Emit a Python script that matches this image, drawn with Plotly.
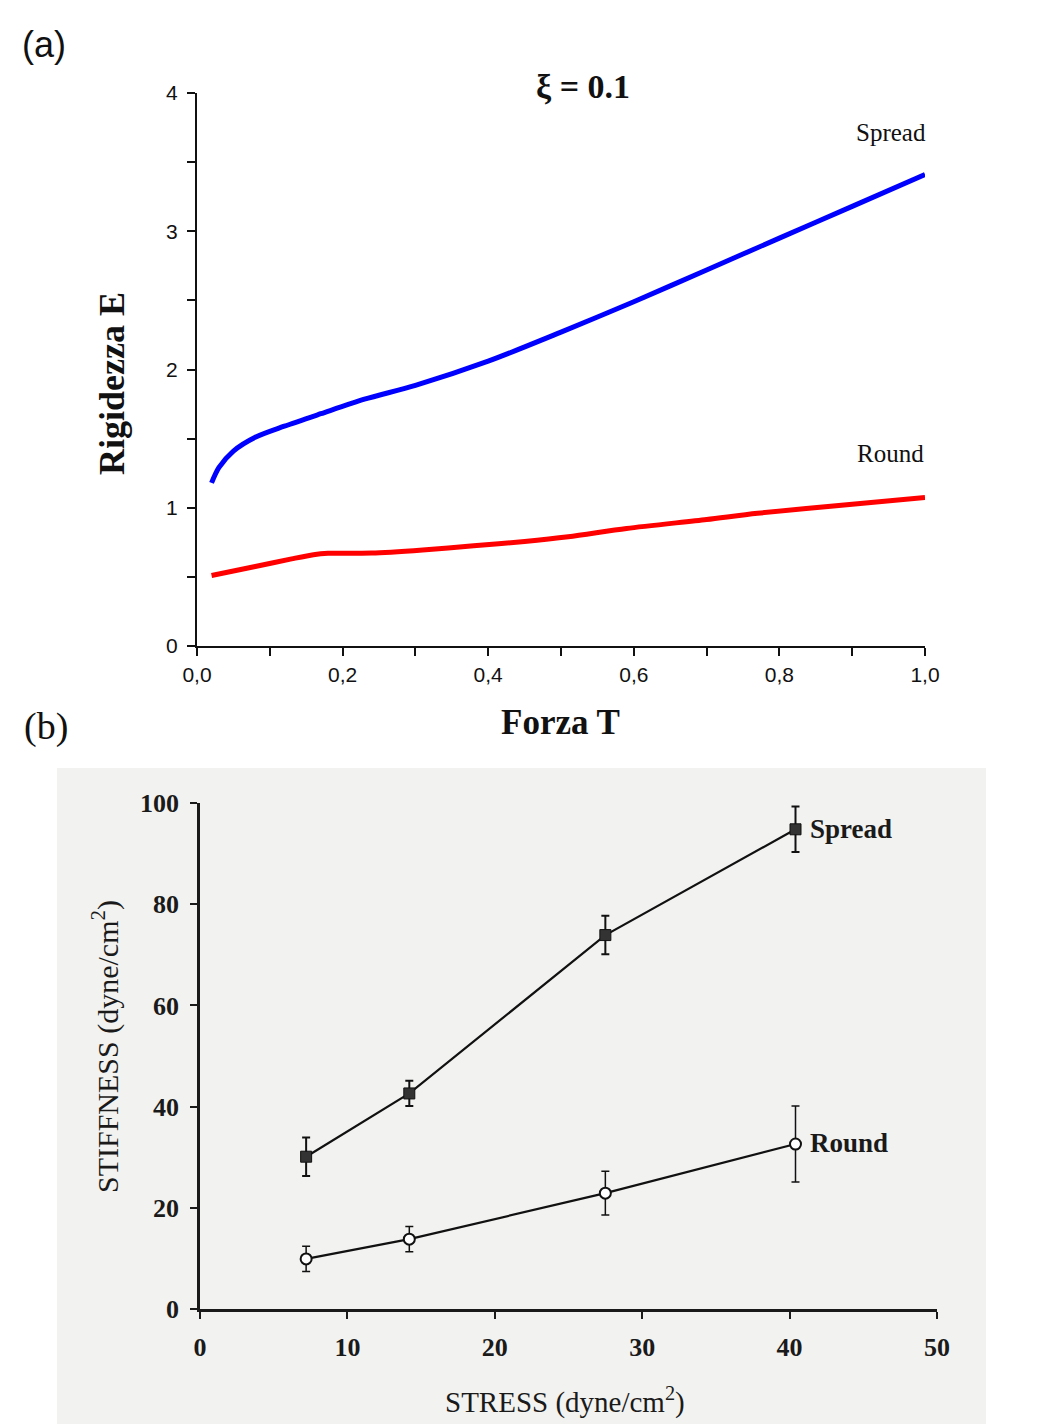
import plotly.graph_objects as go

# ---- Panel (a): model stiffness E versus applied force T (xi = 0.1) ----
spread_t = [0.02, 0.03, 0.05, 0.08, 0.12, 0.17, 0.23, 0.30, 0.40, 0.50, 0.60, 0.70, 0.80, 0.90, 1.00]
spread_e = [1.18, 1.29, 1.41, 1.51, 1.59, 1.68, 1.785, 1.885, 2.06, 2.27, 2.49, 2.72, 2.95, 3.18, 3.41]

round_t = [0.02, 0.08, 0.13, 0.16, 0.18, 0.24, 0.31, 0.38, 0.45, 0.51, 0.59, 0.70, 0.77, 0.90, 1.00]
round_e = [0.51, 0.575, 0.63, 0.66, 0.67, 0.672, 0.695, 0.725, 0.756, 0.79, 0.85, 0.915, 0.96, 1.025, 1.075]

# ---- Panel (b): measured stiffness versus stress ----
stress = [7.2, 14.2, 27.5, 40.4]
spread_stiff = [30.1, 42.6, 73.9, 94.8]
spread_err = [3.8, 2.5, 3.8, 4.5]
round_stiff = [9.9, 13.8, 22.9, 32.6]
round_err = [2.5, 2.5, 4.3, 7.5]

W, H = 1062, 1424


def px(x):
    return x / W


def py(y):
    return 1 - y / H


fig = go.Figure()

# panel (a) curves
fig.add_trace(go.Scatter(x=spread_t, y=spread_e, mode="lines",
                         line=dict(color="#0000ff", width=5, shape="spline", smoothing=0.8),
                         xaxis="x", yaxis="y", showlegend=False))
fig.add_trace(go.Scatter(x=round_t, y=round_e, mode="lines",
                         line=dict(color="#ff0000", width=5, shape="spline", smoothing=0.8),
                         xaxis="x", yaxis="y", showlegend=False))

# panel (b) data with error bars
fig.add_trace(go.Scatter(x=stress, y=spread_stiff, mode="lines+markers",
                         line=dict(color="#111111", width=2.2),
                         marker=dict(symbol="square", size=11, color="#333333",
                                     line=dict(color="#111111", width=1)),
                         error_y=dict(type="data", array=spread_err, color="#111111",
                                      thickness=2, width=4),
                         xaxis="x2", yaxis="y2", showlegend=False))
fig.add_trace(go.Scatter(x=stress, y=round_stiff, mode="lines+markers",
                         line=dict(color="#111111", width=2.2),
                         marker=dict(symbol="circle", size=11, color="#ffffff",
                                     line=dict(color="#111111", width=2)),
                         error_y=dict(type="data", array=round_err, color="#111111",
                                      thickness=1.5, width=4),
                         xaxis="x2", yaxis="y2", showlegend=False))

sans = "Liberation Sans"
serif = "Liberation Serif"

axis_a = dict(showgrid=False, zeroline=False, showline=True, linecolor="#111111",
              linewidth=2, ticks="outside", ticklen=8, tickwidth=2, tickcolor="#111111",
              automargin=False,
              tickfont=dict(family=sans, size=21, color="#111111"))
axis_b = dict(showgrid=False, zeroline=False, showline=True, linecolor="#1a1a1a",
              linewidth=2.5, ticks="outside", ticklen=7, tickwidth=2, tickcolor="#1a1a1a",
              automargin=False,
              tickfont=dict(family=serif, size=26, color="#1a1a1a", weight="bold"))

fig.update_layout(
    template="none",
    width=W, height=H,
    autosize=False,
    margin=dict(l=0, r=0, t=0, b=0, pad=0, autoexpand=False),
    paper_bgcolor="#ffffff",
    plot_bgcolor="rgba(0,0,0,0)",
    separators=",.",
    xaxis=dict(axis_a, domain=[px(197), px(925)], range=[0, 1], anchor="y",
               dtick=0.2, tick0=0, tickformat=".1f", ticklabelstandoff=1,
               minor=dict(dtick=0.1, ticks="outside", ticklen=8, tickwidth=2,
                          tickcolor="#111111")),
    yaxis=dict(axis_a, domain=[py(646), py(93)], range=[0, 4], anchor="x",
               dtick=1, tick0=0, ticklabelstandoff=5,
               minor=dict(dtick=0.5, ticks="outside", ticklen=8, tickwidth=2,
                          tickcolor="#111111")),
    xaxis2=dict(axis_b, domain=[px(200), px(937)], range=[0, 50], anchor="y2",
                dtick=10, tick0=0, ticklabelstandoff=6),
    yaxis2=dict(axis_b, domain=[py(1309), py(803)], range=[0, 100], anchor="x2",
                dtick=20, tick0=0, ticklabelstandoff=6),
    shapes=[
        # scanned sheet behind panel (b)
        dict(type="rect", xref="paper", yref="paper", x0=px(57), x1=px(986),
             y0=0, y1=py(768), fillcolor="#f2f2f0", line=dict(width=0), layer="below"),
    ],
)

ann = []


def note(text, x, y, size, family, xanchor="center", angle=0, color="#111111", weight="normal"):
    ann.append(dict(text=text, x=px(x), y=py(y), xref="paper", yref="paper",
                    xanchor=xanchor, yanchor="middle", showarrow=False, textangle=angle,
                    font=dict(family=family, size=size, color=color, weight=weight)))


note("(a)", 44, 44, 36, sans)
note("(b)", 46, 727, 38, serif)
note("ξ = <b>0.1</b>", 583, 86, 34, serif, weight="bold")
note("Spread", 928, 132, 25, serif, xanchor="right")
note("Round", 926, 454, 25, serif, xanchor="right")
note("Rigidezza E", 112, 384, 36, serif, angle=-90, weight="bold")
note("Forza T", 560, 722, 35, serif, weight="bold")

note("Spread", 808, 829, 27, serif, xanchor="left", color="#1a1a1a", weight="bold")
note("Round", 808, 1143, 27, serif, xanchor="left", color="#1a1a1a", weight="bold")
note("STIFFNESS (dyne/cm<sup>2</sup>)", 105, 1047, 30, serif, angle=-90, color="#1a1a1a")
note("STRESS (dyne/cm<sup>2</sup>)", 565, 1400, 29, serif, color="#1a1a1a")

fig.update_layout(annotations=ann)

fig.write_html("out.html")
